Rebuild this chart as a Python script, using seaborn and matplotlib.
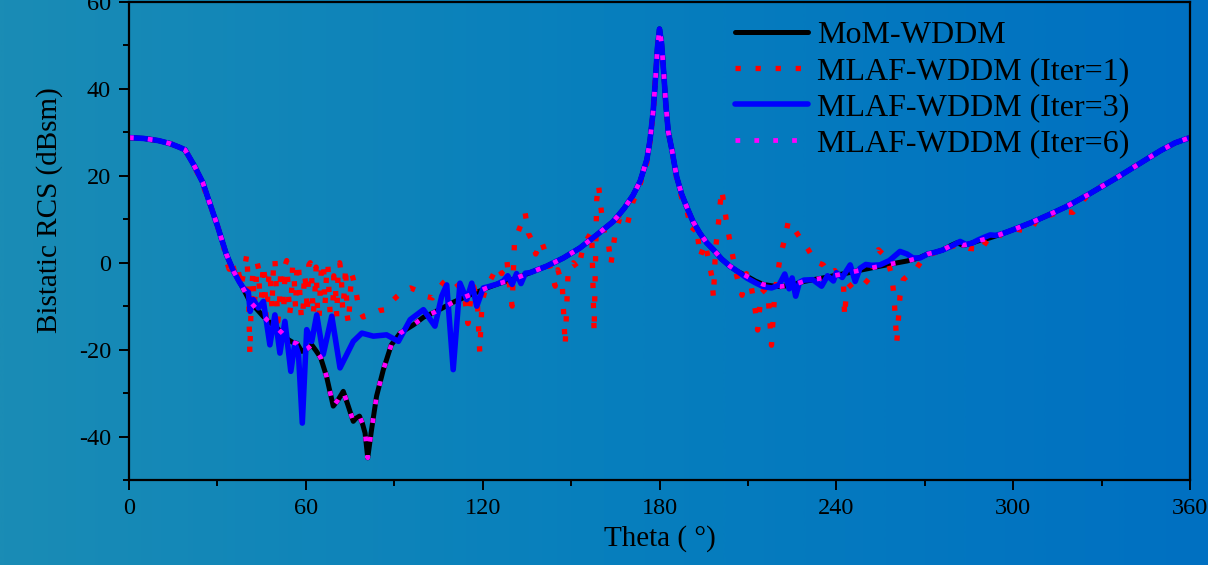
import numpy as np
import matplotlib
matplotlib.use("Agg")
import matplotlib.pyplot as plt
from matplotlib.ticker import MultipleLocator
from matplotlib.colors import LinearSegmentedColormap
import seaborn as sns

# ---- Bistatic RCS versus observation angle (degrees / dBsm) ----
theta_mom = [0, 5, 10, 14, 17, 19, 22, 25, 28, 30, 33, 35.5, 38, 41, 43.5, 45.5, 47.5,
             49.5, 52, 54, 55.5, 57, 58.6, 60.5, 62, 63.5, 65, 67, 69.3, 71, 72.7, 74.4,
             76.1, 77, 78.2, 79.2, 80.1, 81, 82.3, 84, 86.3, 89, 92, 96.5, 100, 103.3,
             107.8, 110, 114.6, 118, 121.4, 125, 130, 136, 141.7, 147.4, 153, 158.7,
             164.3, 168, 171, 173.4, 175.7, 176.8, 177.9, 178.6, 179.3, 180, 180.7,
             181.4, 182.2, 183, 184.2, 185.8, 187.5, 189.2, 191.5, 193.7, 196, 198.3,
             201, 203.9, 206.5, 209.6, 212.5, 215.2, 218, 220.9, 224.3, 226.6, 229,
             232.2, 235.5, 239, 243.5, 249, 254.8, 260, 264, 268, 271, 273.5, 276, 279,
             281, 283, 285, 288, 292, 296, 300, 306, 312, 318, 325, 330, 335, 340, 345,
             350, 355, 360]
rcs_mom = [28.8, 28.6, 28.1, 27.4, 26.6, 26.0, 22.5, 18.5, 12.5, 8.5, 2.0, -2.0, -5.0,
           -8.9, -10.8, -12.3, -13.6, -14.6, -16.2, -17.7, -18.3, -18.6, -20.4, -19.8,
           -18.9, -20.3, -21.8, -26.1, -33.0, -31.5, -29.6, -33.0, -36.5, -35.8, -35.3,
           -37.0, -39.2, -44.9, -38.4, -30.7, -24.6, -18.9, -16.2, -14.3, -12.5, -11.5,
           -9.9, -9.1, -7.7, -6.8, -5.8, -4.9, -3.9, -2.3, -0.8, 1.1, 3.4, 6.4, 9.5,
           12.5, 15.5, 18.7, 23.7, 28.3, 35.2, 42.0, 49.5, 53.8, 50.5, 44.0, 36.0, 30.0,
           26.0, 19.8, 15.8, 12.9, 9.3, 6.8, 4.6, 3.0, 0.9, -0.8, -2.0, -3.1, -4.2, -5.0,
           -5.3, -5.5, -5.2, -4.8, -4.3, -3.9, -3.5, -3.0, -2.4, -1.6, -0.8, -0.1, 0.4,
           1.1, 2.0, 2.4, 2.9, 4.0, 4.6, 4.0, 4.3, 5.0, 5.7, 6.6, 7.6, 9.2, 11.0, 12.9,
           15.5, 17.5, 19.5, 21.6, 23.7, 25.8, 27.6, 28.8]

theta_iter1 = [0, 5, 10, 14, 17, 19, 22, 25, 28, 30, 32, 33, 34, 35, 36, 37, 38, 39, 40,
               40.6, 41, 41.5, 42, 42.5, 43, 43.5, 44, 44.5, 45, 45.5, 46, 46.5, 47, 47.5,
               48, 48.5, 49, 49.5, 50, 50.5, 51, 51.5, 52, 52.5, 53, 53.5, 54, 54.5, 55,
               55.5, 56, 56.5, 57, 57.5, 58, 58.5, 59, 59.5, 60, 60.5, 61, 61.5, 62, 62.5,
               63, 63.5, 64, 64.5, 65, 65.5, 66, 66.5, 67, 67.5, 68, 68.5, 69, 69.5, 70,
               70.5, 71, 71.5, 72, 72.5, 73, 73.5, 74, 74.5, 75, 75.5, 76, 77, 78, 79.5,
               81, 83, 85, 87, 89, 91, 93, 95.5, 98, 100.5,
               103, 105, 106.5, 108.5, 110.5, 112.5, 114, 115, 116, 117, 118.2, 119,
               119.8, 121, 123, 125, 126.5, 128.2, 129.2, 130, 130.8, 132, 133.4, 134.4,
               135.5, 136.6, 138, 139.9, 141.2, 143, 144.6, 145.5, 147, 148, 149, 150.8,
               152.5, 154, 155.5, 157, 157.8, 158.7, 159.3, 160.4, 161.5, 162.6, 163.5,
               165, 166.5, 168.9, 171, 173.4, 175.7, 176.8, 177.9, 178.6, 179.3, 180,
               180.7, 181.4, 182.2, 183, 184.2, 185.8, 187.5, 189.2, 190.9, 192.5, 193.8,
               195.5, 197.7, 198.3, 199, 200, 200.5, 201.1, 202, 202.8, 203.9, 205, 206,
               208, 209.5, 211, 212.5, 213.3, 214.5, 216, 217, 218, 219, 220, 221, 222.6,
               223.7, 225, 227.7, 230.5, 232.8, 235.6, 237.5, 239.5, 241, 242.4, 242.8,
               243.5, 246.4, 249, 251, 252.5, 254.3, 257.1, 258.8, 259.6, 260.5, 261.6,
               262.7, 264.5, 267.3, 270, 273, 276, 279, 282, 285, 287, 289, 291.6, 293,
               296, 300, 302, 305.7, 308, 312, 316, 320.3, 325, 330, 335, 340, 345, 350,
               355, 360]
rcs_iter1 = [28.8, 28.6, 28.1, 27.4, 26.6, 26.0, 22.5, 18.0, 12.5, 8.5, 4.0, 0.5, -1.5,
             0.5, -3.0, -1.5, -5.5, -2.0, 2.0, -8.0, -21.0, -8.0, -2.5, -9.5, -6.0, 0.0,
             -1.5, -11.0, -7.5, -0.5, -3.0, -12.5, -9.0, -2.0, -4.5, -10.5, -1.0, 1.0,
             -6.0, -13.5, -10.5, -1.5, -3.5, -11.0, -0.5, 0.5, -5.5, -12.0, -9.0, -1.0,
             -3.0, -10.5, -1.0, 0.0, -7.5, -13.0, -12.0, -2.5, -5.0, -11.5, -0.5, 0.0,
             -3.5, -12.0, -8.0, -1.0, -11.5, -13.0, -4.0, 0.0, -0.5, -10.0, -3.0, -0.5,
             -9.0, -14.0, -13.0, -3.0, -5.0, -12.5, -1.0, 0.0, -2.5, -11.0, -7.0, -1.0,
             -12.0, -14.0, -8.0, -2.5, -3.5, -6.6, -10.5, -12.5, -12.0, -11.6,
             -11.0, -10.8, -9.0, -7.7, -6.5, -5.8, -6.5, -7.7, -8.1, -6.0, -4.7, -3.5,
             -4.3, -6.0, -8.5, -14.0, -8.0, -5.5, -9.0, -20.5, -9.0, -6.0, -3.5, -0.8,
             -2.5, 0.7, -6.0, -10.0, 4.9, 7.0, 9.5, 11.5, 6.8, 5.3, 2.0, 5.0, 2.6, -1.5,
             -5.4, -1.6, -5.0, -19.0, -2.0, 0.0, -1.5, 3.5, 5.5, 7.2, -16.0, 14.5, 18.0,
             11.0, 6.0, 4.9, -0.4, 7.0, 10.2, 8.3, 14.0, 18.0, 23.0, 28.0, 35.0, 42.0,
             49.0, 53.5, 50.0, 44.0, 36.0, 30.0, 26.0, 19.5, 15.0, 12.3, 7.2, 8.5, 1.4,
             4.5, -3.0, -8.0, 3.0, 9.1, 13.0, 16.8, 13.0, 9.0, 4.9, 1.0, -2.5, -7.5,
             -2.5, -5.0, -11.0, -15.5, -7.0, -6.0, -9.0, -19.0, -8.0, -3.0, 1.6, 5.7,
             9.5, 8.5, 5.7, 3.0, 0.3, -0.5, -2.5, -1.8, -3.5, -4.3, -12.4, -6.0, -4.3,
             -3.5, -4.7, -1.0, 3.0, 1.1, -2.8, -8.0, -18.5, -7.7, -3.9, -2.8, -1.2, 1.5,
             2.2, 3.0, 3.7, 4.2, 3.3, 3.2, 5.3, 4.1, 4.4, 6.6, 7.8, 7.6, 7.2, 9.8, 10.8,
             11.8, 11.6, 15.3, 17.6, 19.5, 21.6, 23.7, 25.8, 27.6, 28.8]

theta_iter3 = [0, 5, 10, 14, 17, 19, 22, 25, 28, 30, 33, 35.5, 37.5, 39, 40.5, 41.1,
               42.2, 43.9, 45.6, 47.8, 49.5, 51.2, 52.9, 54.9, 56.3, 57.5, 58.8, 60.3,
               62, 63.7, 65.9, 68.8, 71.6, 73.9, 76.1, 79, 82.9, 87.4, 91.4, 95.4, 99.9,
               103.8, 106.1, 107.8, 110, 112.3, 114.6, 116.3, 118, 120.2, 122, 125, 127,
               128.5, 130, 131.5, 133, 134.5, 136, 141.7, 147.4, 153, 158.7, 164.3, 168,
               171, 173.4, 175.7, 176.8, 177.9, 178.6, 179.3, 180, 180.7, 181.4, 182.2,
               183, 184.2, 185.8, 187.5, 189.2, 191.5, 193.7, 196, 198.3, 201, 203.9,
               206.5, 209.6, 212.5, 215.2, 218, 220.5, 222.5, 224, 225, 226.2, 227.5,
               229, 232, 235, 237, 239, 240, 242, 244.7, 246.4, 248, 250, 252, 254.8,
               258, 261.6, 264, 266, 268.4, 271, 273.5, 276, 279, 282, 284, 286, 288,
               290, 292.2, 294, 296, 300, 306, 312, 318, 325, 330, 335, 340, 345, 350,
               355, 360]
rcs_iter3 = [28.8, 28.6, 28.1, 27.4, 26.6, 26.0, 22.5, 18.5, 12.5, 8.5, 2.0, -2.0, -4.5,
             -6.0, -6.8, -11.2, -8.5, -10.4, -8.9, -18.9, -12.0, -20.8, -13.5, -25.0,
             -18.5, -21.0, -36.9, -15.4, -18.1, -12.0, -21.1, -12.3, -24.2, -21.1,
             -18.1, -16.2, -16.9, -16.6, -18.1, -13.1, -10.8, -14.6, -7.7, -5.1, -24.6,
             -4.7, -8.5, -4.7, -10.0, -5.8, -5.5, -4.9, -4.2, -3.0, -5.0, -2.5, -4.8,
             -2.4, -2.3, -0.8, 1.1, 3.4, 6.4, 9.5, 12.5, 15.5, 18.7, 23.7, 28.3, 35.2,
             42.0, 49.5, 53.8, 50.5, 44.0, 36.0, 30.0, 26.0, 19.8, 15.8, 12.9, 9.3, 6.8,
             4.6, 3.0, 0.9, -0.8, -2.0, -3.5, -4.6, -5.5, -5.8, -5.2, -2.6, -6.0, -3.5,
             -7.7, -4.5, -4.0, -3.9, -5.4, -3.0, -4.2, -2.3, -3.4, -0.5, -4.3, -1.3,
             -0.4, -0.6, -0.5, 0.5, 2.6, 2.0, 1.1, 1.1, 2.0, 2.4, 2.9, 3.8, 4.9, 4.2,
             4.5, 5.2, 5.8, 6.4, 6.3, 6.6, 7.6, 9.2, 11.0, 12.9, 15.5, 17.5, 19.5, 21.6,
             23.7, 25.8, 27.6, 28.8]

# Iter=6 has converged onto the MoM-WDDM reference
theta_iter6 = list(theta_mom)
rcs_iter6 = list(rcs_mom)

x_ticks = [0, 60, 120, 180, 240, 300, 360]
y_ticks = [-40, -20, 0, 20, 40, 60]
labels = ["MoM-WDDM", "MLAF-WDDM (Iter=1)", "MLAF-WDDM (Iter=3)", "MLAF-WDDM (Iter=6)"]

sns.set_theme(style="ticks")
plt.rcParams["font.family"] = ["Liberation Serif", "DejaVu Serif"]
plt.rcParams["axes.unicode_minus"] = False

fig = plt.figure(figsize=(12.08, 5.65), dpi=100)

# blue-teal gradient backdrop behind the whole figure
bg = fig.add_axes([0, 0, 1, 1], zorder=-10)
cmap = LinearSegmentedColormap.from_list("backdrop", ["#1a8cb5", "#077fbd", "#0070c2"])
bg.imshow(np.linspace(0, 1, 512)[None, :], aspect="auto", cmap=cmap,
          extent=[0, 1, 0, 1])
bg.set_axis_off()

ax = fig.add_axes([0.10679, 0.15044, 0.87831, 0.84602])
ax.set_facecolor("none")

sns.lineplot(x=np.array(theta_mom), y=np.array(rcs_mom), ax=ax, color="black",
             linewidth=3.6, errorbar=None, label=labels[0])
sns.lineplot(x=np.array(theta_iter1), y=np.array(rcs_iter1), ax=ax, color="#ff0000",
             linewidth=3.8, linestyle=(0, (1, 2.8)), errorbar=None, label=labels[1])
sns.lineplot(x=np.array(theta_iter3), y=np.array(rcs_iter3), ax=ax, color="#0000ff",
             linewidth=4.0, errorbar=None, label=labels[2])
sns.lineplot(x=np.array(theta_iter6), y=np.array(rcs_iter6), ax=ax, color="#ff00ff",
             linewidth=3.4, linestyle=(0, (1, 3.0)), errorbar=None, label=labels[3])

ax.set_xlim(0, 360)
ax.set_ylim(-50, 60)
ax.set_xticks(x_ticks)
ax.set_yticks(y_ticks)
ax.xaxis.set_minor_locator(MultipleLocator(30))
ax.yaxis.set_minor_locator(MultipleLocator(10))
ax.tick_params(which="major", direction="out", length=7, width=1.4, color="black",
               labelsize=17.5, labelcolor="black", pad=6)
ax.tick_params(which="minor", direction="out", length=4, width=1.4, color="black")
ax.tick_params(top=False, right=False, which="both")
for s in ax.spines.values():
    s.set_visible(True)
    s.set_color("black")
    s.set_linewidth(1.6)

ax.set_xlabel("Theta ( °)", fontsize=21, color="black", labelpad=4)
ax.set_ylabel("Bistatic RCS (dBsm)", fontsize=21, color="black")
ax.yaxis.set_label_coords(-0.062, 0.565)

leg = ax.legend(loc="upper left", bbox_to_anchor=(0.571, 0.96), frameon=False,
                fontsize=23, handlelength=2.3, handletextpad=0.28, labelspacing=0.2,
                borderpad=0, borderaxespad=0)
for t in leg.get_texts():
    t.set_color("black")

fig.savefig("out.png", dpi=100)
